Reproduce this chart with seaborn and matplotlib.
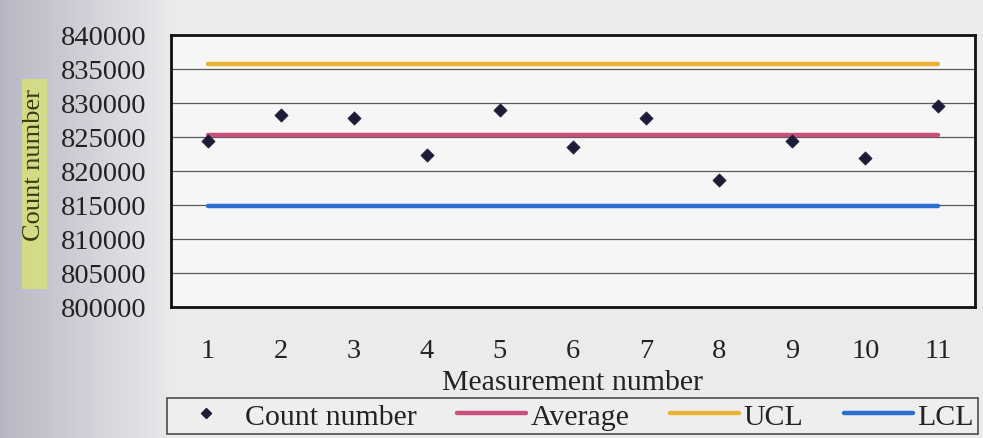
import numpy as np
import pandas as pd
import matplotlib
matplotlib.use("Agg")
import matplotlib.pyplot as plt
import seaborn as sns
from matplotlib.lines import Line2D
from matplotlib.patches import Rectangle

# ---- data ----
measurement = [1, 2, 3, 4, 5, 6, 7, 8, 9, 10, 11]
count_number = [824400, 828300, 827800, 822400, 829000, 823500,
                827800, 818700, 824400, 821900, 829600]
average = 825300
ucl = 835700
lcl = 814900
y_ticks = [800000, 805000, 810000, 815000, 820000, 825000,
           830000, 835000, 840000]

df = pd.DataFrame({"Measurement number": measurement,
                   "Count number": count_number})
lines_df = pd.DataFrame({
    "Measurement number": measurement * 3,
    "value": [average] * len(measurement) + [ucl] * len(measurement) + [lcl] * len(measurement),
    "series": ["Average"] * len(measurement) + ["UCL"] * len(measurement) + ["LCL"] * len(measurement),
})

sns.set_theme(style="white")
plt.rcParams["font.family"] = ["Liberation Serif", "DejaVu Serif"]

fig = plt.figure(figsize=(9.83, 4.39), dpi=100)
fig.patch.set_facecolor("#ececec")

# background gradient (scan look)
bg = fig.add_axes([0, 0, 1, 1], zorder=-10)
grad = np.linspace(0, 1, 400)
grad = np.clip(grad / 0.18, 0, 1)
img = np.zeros((2, 400, 3))
c0 = np.array([0.72, 0.72, 0.77])
c1 = np.array([0.925, 0.925, 0.93])
for i in range(3):
    img[:, :, i] = c0[i] + (c1[i] - c0[i]) * grad
bg.imshow(img, aspect="auto", extent=[0, 1, 0, 1])
bg.axis("off")

ax = fig.add_axes([171 / 983, (439 - 308) / 439, (975 - 171) / 983, (308 - 36) / 439])
ax.set_facecolor("#f6f6f6")

palette = {"Average": "#c9507d", "UCL": "#e9b233", "LCL": "#2b6fd3"}
sns.lineplot(data=lines_df, x="Measurement number", y="value", hue="series",
             palette=palette, linewidth=3.2, ax=ax, legend=False, zorder=3)
sns.scatterplot(data=df, x="Measurement number", y="Count number", marker="D",
                s=45, color="#1c1c38", edgecolor="#1c1c38", ax=ax, zorder=4,
                legend=False)

ax.set_xlim(0.5, 11.5)
ax.set_ylim(800000, 840000)
ax.set_yticks(y_ticks)
ax.set_yticklabels([str(v) for v in y_ticks], fontsize=20.5, color="#222222")
ax.set_xticks(measurement)
ax.set_xticklabels([str(m) for m in measurement], fontsize=20.5, color="#222222")
ax.tick_params(axis="x", length=0, pad=22)
ax.tick_params(axis="y", length=0, pad=18)
ax.set_xticks([m + 0.5 for m in measurement[:-1]], minor=True)
ax.tick_params(axis="x", which="minor", direction="in", length=5, width=0.8, color="#555555")

for v in y_ticks[1:-1]:
    ax.axhline(v, color="#5a5a5a", linewidth=0.9, zorder=1)

for s in ax.spines.values():
    s.set_color("#111111")
    s.set_linewidth(2)
    s.set_visible(True)

ax.set_xlabel("Measurement number", fontsize=21.5, color="#222222", labelpad=5)
ax.set_ylabel("")

# highlighted y-axis title
fig.patches.append(Rectangle((22 / 983, 1 - 290 / 439), 25 / 983, 210 / 439,
                             transform=fig.transFigure, facecolor="#d6e07a",
                             edgecolor="none", alpha=0.85, zorder=0))
fig.text(34 / 983, 1 - 165 / 439, "Count number", rotation=90, fontsize=19,
         color="#3a3a14", ha="center", va="center")

handles = [
    Line2D([], [], marker="D", linestyle="none", color="#1c1c38", markersize=5),
    Line2D([], [], color=palette["Average"], linewidth=3.2),
    Line2D([], [], color=palette["UCL"], linewidth=3.2),
    Line2D([], [], color=palette["LCL"], linewidth=3.2),
]
labels = ["Count number", "Average", "UCL", "LCL"]
leg = fig.legend(handles, labels, loc="lower left",
                 bbox_to_anchor=(167 / 983, 4 / 439, (978 - 167) / 983, 38 / 439),
                 mode="expand", ncol=4, fontsize=21.5, frameon=True, fancybox=False,
                 handlelength=2.3, handletextpad=0.15, borderpad=0.15,
                 borderaxespad=0)
leg.get_frame().set_edgecolor("#222222")
leg.get_frame().set_linewidth(1.2)
leg.get_frame().set_facecolor("#f0f0f0")
for t in leg.get_texts():
    t.set_color("#222222")

fig.savefig("out.png", dpi=100, facecolor=fig.get_facecolor())
